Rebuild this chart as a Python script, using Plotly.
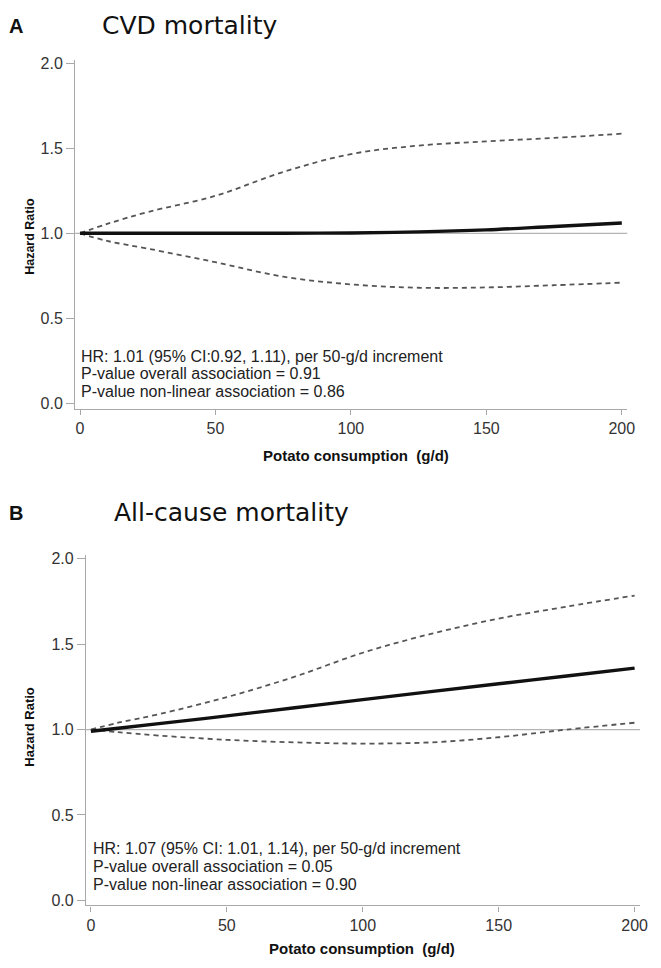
import plotly.graph_objects as go

# ---------------- data ----------------
x_pts = [0, 10, 25, 50, 75, 100, 125, 150, 175, 200]

cvd_hr    = [1.0, 1.0, 1.0, 1.0, 1.0, 1.002, 1.008, 1.02, 1.04, 1.06]
cvd_upper = [1.0, 1.055, 1.125, 1.22, 1.36, 1.465, 1.515, 1.54, 1.56, 1.585]
cvd_lower = [1.0, 0.955, 0.91, 0.83, 0.745, 0.70, 0.68, 0.682, 0.695, 0.71]

all_hr    = [0.99, 1.008, 1.035, 1.08, 1.128, 1.175, 1.222, 1.268, 1.314, 1.36]
all_upper = [1.0, 1.04, 1.09, 1.19, 1.31, 1.45, 1.56, 1.65, 1.72, 1.785]
all_lower = [1.0, 0.985, 0.965, 0.94, 0.925, 0.918, 0.925, 0.955, 1.0, 1.04]

x_ticks = [0, 50, 100, 150, 200]
y_ticks = [0.0, 0.5, 1.0, 1.5, 2.0]
y_tick_text = ["0.0", "0.5", "1.0", "1.5", "2.0"]

panel_letters = ["A", "B"]
panel_titles = ["CVD mortality", "All-cause mortality"]
stats_text = [
    ["HR: 1.01 (95% CI:0.92, 1.11), per 50-g/d increment",
     "P-value overall association = 0.91",
     "P-value non-linear association = 0.86"],
    ["HR: 1.07 (95% CI: 1.01, 1.14), per 50-g/d increment",
     "P-value overall association = 0.05",
     "P-value non-linear association = 0.90"],
]
x_title = "Potato consumption  (g/d)"
y_title = "Hazard Ratio"

# ---------------- figure ----------------
PAGE_W, PAGE_H = 661, 968
OFF = 8  # default page margin of the html body
W, H = PAGE_W - 2 * OFF, PAGE_H - 2 * OFF
fig = go.Figure()

AX = "#a8a8a8"
FONT = "Liberation Sans, Arial, sans-serif"

def px_x(p):
    return (p - OFF) / W

def px_y(p):
    return 1 - (p - OFF) / H

panels = [
    dict(hr=cvd_hr, up=cvd_upper, lo=cvd_lower, xd=[px_x(76), px_x(635)],
         yd=[px_y(407), px_y(55)], title_y=21, title_x=101, text_x=80,
         text_ys=[354, 372, 390], xt_y=454, xt_x=360, yt_y=233, yt_size=12.5),
    dict(hr=all_hr, up=all_upper, lo=all_lower, xd=[px_x(87), px_x(648)],
         yd=[px_y(908), px_y(555)], title_y=512, title_x=113, text_x=92,
         text_ys=[851, 869, 887], xt_y=951, xt_x=366, yt_y=728, yt_size=13),
]

for i, p in enumerate(panels):
    xa = "x" if i == 0 else "x2"
    ya = "y" if i == 0 else "y2"
    # reference line at HR = 1
    fig.add_shape(type="line", xref=f"{xa} domain", yref=ya, x0=0, x1=1, y0=1, y1=1,
                  line=dict(color="#b4b4b4", width=1.2), layer="below")
    for ys in (p["up"], p["lo"]):
        fig.add_trace(go.Scatter(x=x_pts, y=ys, xaxis=xa, yaxis=ya, mode="lines",
                                 line=dict(color="#555555", width=1.8, dash="5px,4px", shape="spline"),
                                 showlegend=False, hoverinfo="skip"))
    fig.add_trace(go.Scatter(x=x_pts, y=p["hr"], xaxis=xa, yaxis=ya, mode="lines",
                             line=dict(color="#111111", width=3.4, shape="spline"),
                             showlegend=False, hoverinfo="skip"))

    axis_common = dict(showline=True, linecolor=AX, linewidth=1.3, ticks="outside",
                       tickcolor=AX, tickwidth=1, showgrid=False, zeroline=False,
                       tickfont=dict(family=FONT, size=16, color="#333333"))
    xkey = "xaxis" if i == 0 else "xaxis2"
    ykey = "yaxis" if i == 0 else "yaxis2"
    fig.update_layout(**{
        xkey: dict(domain=p["xd"], range=[-1.8, 202], tickvals=x_ticks, anchor=ya,
                   ticklen=5, **axis_common),
        ykey: dict(domain=p["yd"], range=[-0.03, 2.02], tickvals=y_ticks, ticktext=y_tick_text,
                   anchor=xa, ticklen=8, **axis_common),
    })

    fig.add_annotation(xref="paper", yref="paper", x=px_x(7), y=px_y(p["title_y"]),
                       text=f"<b>{panel_letters[i]}</b>", showarrow=False, xanchor="left",
                       yanchor="middle", font=dict(family=FONT, size=20, color="#111"))
    fig.add_annotation(xref="paper", yref="paper", x=px_x(p["title_x"]), y=px_y(p["title_y"]),
                       text=panel_titles[i], showarrow=False, xanchor="left", yanchor="middle",
                       font=dict(family="DejaVu Sans, Verdana, sans-serif", size=25, color="#111"))
    for line, ty in zip(stats_text[i], p["text_ys"]):
        fig.add_annotation(xref="paper", yref="paper", x=px_x(p["text_x"]), y=px_y(ty),
                           text=line, showarrow=False, xanchor="left", yanchor="middle",
                           align="left", font=dict(family=FONT, size=16, color="#222"))
    fig.add_annotation(xref="paper", yref="paper", x=px_x(p["xt_x"]), y=px_y(p["xt_y"]),
                       text=f"<b>{x_title}</b>", showarrow=False, xanchor="center",
                       yanchor="middle", font=dict(family=FONT, size=15, color="#111"))
    fig.add_annotation(xref="paper", yref="paper", x=px_x(30), y=px_y(p["yt_y"]),
                       text=f"<b>{y_title}</b>", showarrow=False, textangle=-90,
                       xanchor="center", yanchor="middle",
                       font=dict(family=FONT, size=p["yt_size"], color="#111"))

fig.update_layout(width=W, height=H, margin=dict(l=0, r=0, t=0, b=0),
                  paper_bgcolor="white", plot_bgcolor="white", showlegend=False)

fig.write_html("out.html")
